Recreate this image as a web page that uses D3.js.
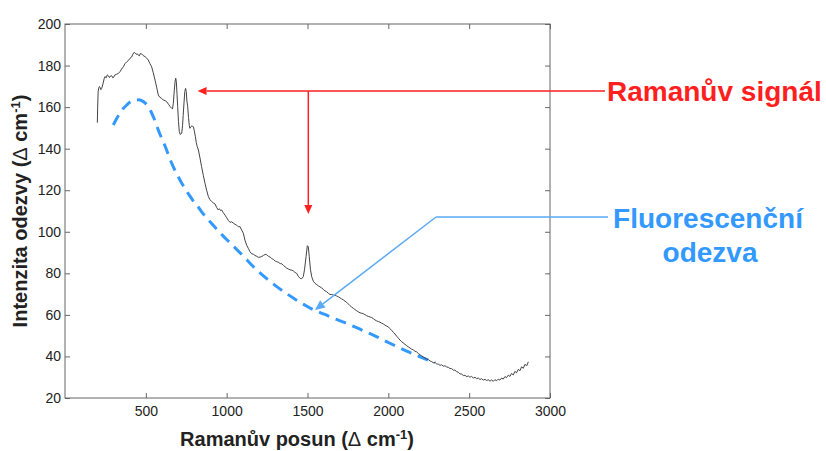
<!DOCTYPE html>
<html>
<head>
<meta charset="utf-8">
<script src="https://cdn.jsdelivr.net/npm/d3@7"></script>
<style>
    body { margin: 0; background: #fff; }
    svg { display: block; }
    text { font-family: "Liberation Sans", Arial, sans-serif; }
</style>
</head>
<body>
<svg id="chart" width="826" height="451"></svg>
<script>
// Measured spectrum: [Raman shift (cm-1), intensity]
const ramanSpectrum = [
    [200, 152.5], [202, 160], [205, 167.5], [209, 169.3], [213, 169.9], [217, 169.4], [222, 168.4],
    [227, 169], [235, 171.2], [242, 173.6], [247, 174.7], [255, 174.1], [262, 175.5], [268, 175.1],
    [275, 174.2], [282, 175], [289, 175.1], [296, 174.1], [303, 174.6], [309, 175.5], [318, 175.8],
    [330, 176.2], [340, 177], [350, 178.3], [361, 179.4], [372, 181], [382, 181.8], [392, 182.4],
    [402, 183.5], [412, 184.1], [420, 185.5], [428, 186.4], [433, 186], [440, 185.4], [447, 185.7],
    [453, 185], [460, 184.7], [466, 185.8], [474, 185.6], [481, 185], [488, 184.6], [495, 184.3],
    [505, 183.6], [515, 182.7], [525, 181], [536, 179.4], [546, 176.5], [557, 173], [567, 169.5],
    [577, 165.8], [587, 164.7], [598, 164.2], [608, 163.4], [619, 163.1], [629, 162.6], [640, 161.4],
    [650, 160.3], [660, 159.4], [665, 159.2], [670, 161.8], [676, 168], [681, 172.5], [685, 173.9],
    [689, 172], [693, 166], [697, 160.2], [702, 153], [707, 148.2], [713, 146.8], [718, 147.3],
    [722, 147.4], [727, 151], [731, 156], [736, 162], [741, 167.5], [746, 169], [750, 167.5],
    [754, 163], [759, 160.2], [764, 155], [769, 151], [773, 149.8], [779, 150.6], [785, 151],
    [790, 150.7], [794, 150.6], [800, 148.6], [806, 146], [812, 143], [818, 141], [825, 139.4],
    [835, 135.5], [845, 131.3], [856, 127], [866, 123.3], [876, 120], [887, 116.9], [897, 115.4],
    [907, 114.6], [917, 113.9], [928, 113.4], [938, 111.7], [948, 110.5], [955, 111.1], [962, 110.2],
    [969, 110.5], [979, 109.2], [990, 108], [1000, 106.8], [1010, 105.5], [1021, 104.5], [1031, 104.8],
    [1041, 104.2], [1052, 103.6], [1062, 103.2], [1072, 102.4], [1082, 102.5], [1093, 100.8],
    [1103, 99.3], [1113, 96], [1124, 93.5], [1134, 92], [1144, 90.4], [1155, 89.4], [1165, 89.2],
    [1175, 88.6], [1186, 88.2], [1196, 87.7], [1206, 87.8], [1217, 88.1], [1227, 88.6], [1238, 89.1],
    [1248, 89], [1258, 88.2], [1269, 87.8], [1279, 87.1], [1289, 86.7], [1300, 85.9], [1310, 85.6],
    [1320, 85.3], [1331, 84.7], [1341, 84.6], [1351, 83.8], [1361, 83.2], [1371, 82.5], [1381, 82.1],
    [1392, 81.7], [1402, 81.5], [1412, 81.2], [1423, 80.4], [1433, 80], [1443, 78.6], [1454, 77.6],
    [1464, 77.4], [1474, 78.4], [1482, 82], [1491, 88], [1499, 93.3], [1505, 92.8], [1511, 88],
    [1518, 82], [1526, 78.4], [1536, 76.2], [1546, 75.2], [1557, 74.6], [1567, 74], [1577, 73.5],
    [1588, 73], [1598, 72.2], [1608, 71.6], [1619, 71.1], [1629, 70.4], [1639, 69.8], [1650, 69.8],
    [1660, 69.5], [1670, 69.4], [1680, 69.1], [1691, 68.7], [1701, 68.2], [1711, 67.7], [1722, 67.2],
    [1732, 66.6], [1742, 66.1], [1752, 65.3], [1762, 64.5], [1773, 63.8], [1783, 63.2], [1793, 62.6],
    [1804, 62], [1814, 61.5], [1825, 61], [1835, 60.8], [1845, 60.6], [1856, 60.1], [1866, 59.6],
    [1876, 59.3], [1887, 59], [1897, 58.7], [1907, 58.2], [1917, 57.6], [1928, 57.1], [1938, 56.8],
    [1948, 56.5], [1959, 56], [1969, 55.6], [1979, 55.1], [1990, 54.6], [2000, 54.2], [2010, 53.4],
    [2021, 52.5], [2031, 51.6], [2041, 50.8], [2052, 49.7], [2062, 48.8], [2072, 47.9], [2082, 47.1],
    [2093, 46.5], [2103, 45.8], [2113, 45.2], [2124, 44.6], [2134, 44.1], [2144, 43.5], [2155, 43.1],
    [2165, 42.5], [2175, 42.2], [2186, 41.4], [2196, 40.8], [2206, 40.3], [2217, 39.7], [2227, 39.3],
    [2237, 38.8], [2247, 38.5], [2258, 37.8], [2268, 37.5], [2278, 37], [2289, 37.1], [2299, 36.4],
    [2309, 36.3], [2320, 35.7], [2330, 36], [2340, 35.3], [2351, 35.5], [2361, 34.9], [2371, 34.8],
    [2381, 34.2], [2392, 34.1], [2402, 33.4], [2412, 33.4], [2423, 32.7], [2433, 32.4], [2443, 31.6],
    [2454, 31.5], [2464, 30.8], [2474, 30.9], [2485, 30.3], [2495, 30.6], [2505, 30], [2515, 30.4],
    [2526, 29.6], [2536, 30], [2546, 29.3], [2557, 29.6], [2567, 28.9], [2577, 29.3], [2587, 28.6],
    [2598, 29], [2608, 28.4], [2618, 28.8], [2629, 28.1], [2639, 28.7], [2649, 28], [2659, 28.8],
    [2670, 28.3], [2680, 29.1], [2690, 28.6], [2701, 29.6], [2711, 29.1], [2721, 30.3], [2731, 29.8],
    [2742, 31], [2752, 30.4], [2762, 31.8], [2773, 31.1], [2783, 32.8], [2793, 32.1], [2804, 33.8],
    [2814, 33.1], [2824, 35], [2835, 34.3], [2845, 36.2], [2856, 35.5], [2866, 37.4]
];

// Estimated fluorescence background (dashed curve)
const fluorescence = [
    [299, 151.4], [320, 154.5], [340, 157.2], [360, 159.3], [382, 161], [405, 162.6], [433, 163.4],
    [455, 163.5], [474, 163.1], [495, 162], [515, 160.2], [531, 158], [546, 155.4], [562, 152.3],
    [577, 149], [598, 145], [619, 141.3], [640, 137], [660, 133], [685, 128.8], [711, 124.9],
    [737, 121.4], [763, 118.3], [794, 114.8], [825, 111.8], [855, 108.6], [887, 105.7], [917, 103.1],
    [948, 100.5], [979, 97.9], [1000, 96.3], [1021, 94.7], [1062, 91.5], [1103, 88.3], [1155, 84],
    [1206, 80.2], [1258, 76.8], [1310, 73.6], [1361, 70.8], [1412, 68.1], [1474, 65.2], [1536, 62.5],
    [1608, 60.2], [1680, 57.8], [1752, 55.6], [1825, 53.1], [1907, 50.3], [2000, 46.7], [2093, 43.3],
    [2196, 39.8], [2289, 37]
];

const xDomain = [0, 3000];
const yDomain = [20, 200];
const xTicks = [500, 1000, 1500, 2000, 2500, 3000];
const yTicks = [20, 40, 60, 80, 100, 120, 140, 160, 180, 200];

// Annotation anchors in data units
const ramanArrowTip = [820, 167.7];
const ramanDropX = 1505;
const ramanDropTipY = 108.6;
const fluorBend = [2295, 107.1];
const fluorArrowTip = [1546, 62.4];

const plot = { left: 65, right: 550, top: 24, bottom: 398 };
const frameColor = '#666';
const labelColor = '#222';
const red = '#ff1f1f';
const blue = '#3399ff';
const blueThin = '#5aaaf5';

const svg = d3.select('#chart');

const x = d3.scaleLinear().domain(xDomain).range([plot.left, plot.right]);
const y = d3.scaleLinear().domain(yDomain).range([plot.bottom, plot.top]);
const fmt = d3.format('d');

function styleAxis(g, size) {
    g.select('.domain').remove();
    g.selectAll('line').attr('stroke', frameColor);
    g.selectAll('text')
        .attr('fill', labelColor)
        .style('font-size', size + 'px')
        .style('font-family', '"Liberation Sans", Arial, sans-serif');
}

// Bottom axis with labels, ticks point inward
svg.append('g')
    .attr('transform', `translate(0,${plot.bottom})`)
    .call(d3.axisBottom(x).tickValues(xTicks).tickFormat(fmt)
        .tickSizeInner(-5).tickSizeOuter(0).tickPadding(8))
    .call(g => styleAxis(g, 14));

// Left axis with labels
svg.append('g')
    .attr('transform', `translate(${plot.left},0)`)
    .call(d3.axisLeft(y).tickValues(yTicks).tickFormat(fmt)
        .tickSizeInner(-5).tickSizeOuter(0).tickPadding(4))
    .call(g => styleAxis(g, 14));

// Mirror ticks on top and right
svg.append('g')
    .attr('transform', `translate(0,${plot.top})`)
    .call(d3.axisTop(x).tickValues(xTicks).tickSizeInner(-5).tickSizeOuter(0).tickFormat(''))
    .call(g => styleAxis(g, 14));

svg.append('g')
    .attr('transform', `translate(${plot.right},0)`)
    .call(d3.axisRight(y).tickValues(yTicks).tickSizeInner(-5).tickSizeOuter(0).tickFormat(''))
    .call(g => styleAxis(g, 14));

// Frame
svg.append('rect')
    .attr('x', plot.left)
    .attr('y', plot.top)
    .attr('width', plot.right - plot.left)
    .attr('height', plot.bottom - plot.top)
    .attr('fill', 'none')
    .attr('stroke', frameColor)
    .attr('stroke-width', 1);

const line = d3.line()
    .x(d => x(d[0]))
    .y(d => y(d[1]));

// Fluorescence background
svg.append('path')
    .datum(fluorescence)
    .attr('d', line.curve(d3.curveMonotoneX))
    .attr('fill', 'none')
    .attr('stroke', blue)
    .attr('stroke-width', 3)
    .attr('stroke-dasharray', '11,7');

// Raman spectrum
svg.append('path')
    .datum(ramanSpectrum)
    .attr('d', line.curve(d3.curveLinear))
    .attr('fill', 'none')
    .attr('stroke', '#444')
    .attr('stroke-width', 1)
    .attr('stroke-linejoin', 'round');

// Axis titles
function axisTitle(sel, label) {
    sel.attr('text-anchor', 'middle')
        .attr('fill', labelColor)
        .style('font-size', '20px')
        .style('font-weight', 'bold');
    sel.append('tspan').text(label + ' (');
    sel.append('tspan').style('font-weight', 'normal').text('Δ');
    sel.append('tspan').text(' cm');
    sel.append('tspan').attr('dy', -7).style('font-size', '13px').text('-1');
    sel.append('tspan').attr('dy', 7).text(')');
}

svg.append('text')
    .attr('x', 297)
    .attr('y', 446)
    .call(axisTitle, 'Ramanův posun');

svg.append('text')
    .attr('transform', 'translate(27,211) rotate(-90)')
    .call(axisTitle, 'Intenzita odezvy');

// Arrow helper: draws a line from `from` to `tip` with a filled head
function arrow(g, from, tip, color, len, half) {
    const dx = tip[0] - from[0], dy = tip[1] - from[1];
    const L = Math.hypot(dx, dy);
    const ux = dx / L, uy = dy / L;
    const bx = tip[0] - ux * len, by = tip[1] - uy * len;
    g.append('line')
        .attr('x1', from[0]).attr('y1', from[1])
        .attr('x2', bx).attr('y2', by)
        .attr('stroke', color)
        .attr('stroke-width', 1.5);
    g.append('path')
        .attr('d', `M${tip[0]},${tip[1]}L${bx - uy * half},${by + ux * half}L${bx + uy * half},${by - ux * half}Z`)
        .attr('fill', color);
}

// Raman signal annotation
const ann = svg.append('g');
const ramanY = y(ramanArrowTip[1]);
arrow(ann, [605, ramanY], [x(ramanArrowTip[0]), ramanY], red, 9, 4);
arrow(ann, [x(ramanDropX), ramanY], [x(ramanDropX), y(ramanDropTipY)], red, 9, 4);

ann.append('text')
    .attr('x', 607)
    .attr('y', 101)
    .attr('fill', red)
    .style('font-size', '28px')
    .style('font-weight', 'bold')
    .text('Ramanův signál');

// Fluorescence annotation
const bend = [x(fluorBend[0]), y(fluorBend[1])];
ann.append('line')
    .attr('x1', 608).attr('y1', bend[1])
    .attr('x2', bend[0]).attr('y2', bend[1])
    .attr('stroke', blueThin)
    .attr('stroke-width', 1.5);
arrow(ann, bend, [x(fluorArrowTip[0]), y(fluorArrowTip[1])], blueThin, 10, 4.5);

ann.append('text')
    .attr('x', 708)
    .attr('y', 228)
    .attr('text-anchor', 'middle')
    .attr('fill', blue)
    .style('font-size', '28px')
    .style('font-weight', 'bold')
    .text('Fluorescenční');

ann.append('text')
    .attr('x', 710)
    .attr('y', 262)
    .attr('text-anchor', 'middle')
    .attr('fill', blue)
    .style('font-size', '28px')
    .style('font-weight', 'bold')
    .text('odezva');
</script>
</body>
</html>
